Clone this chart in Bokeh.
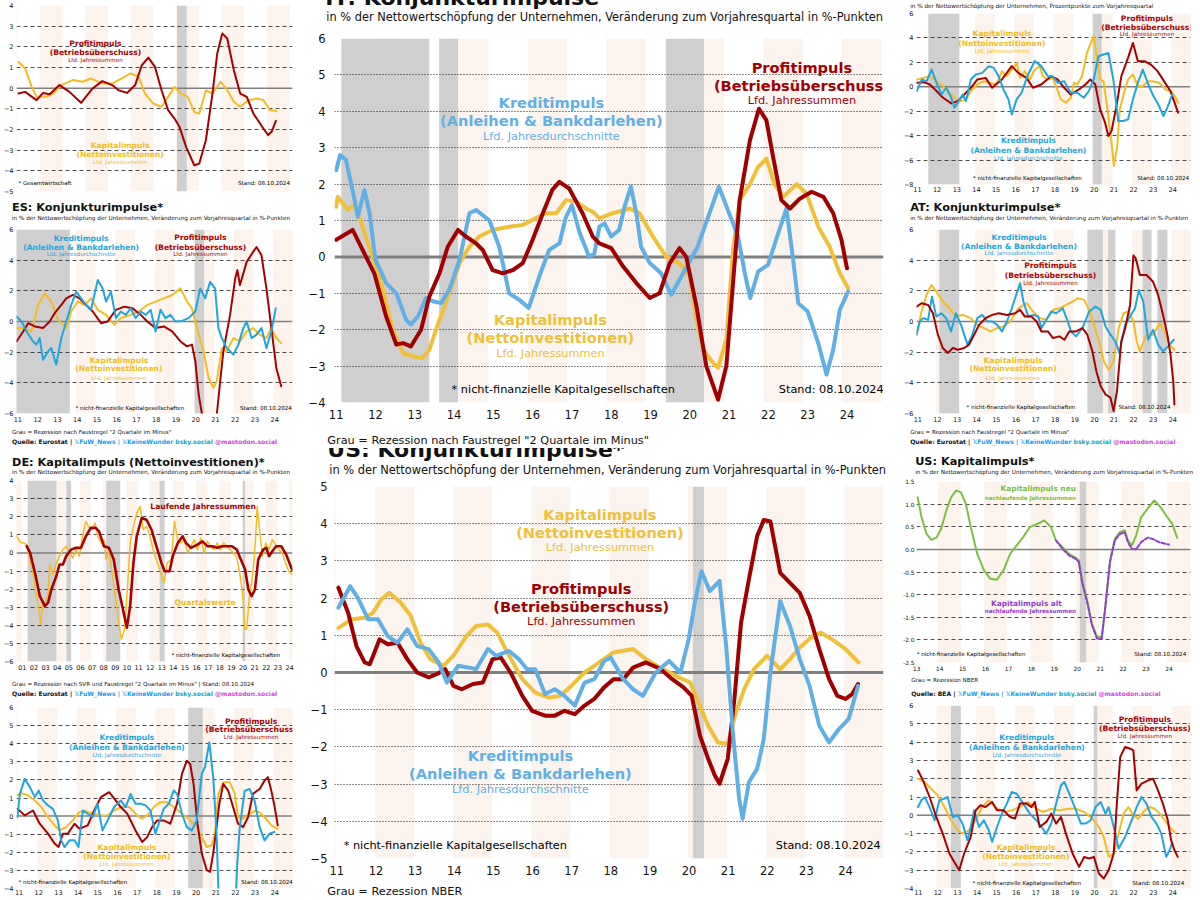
import html
from bokeh.plotting import figure
from bokeh.models import Range1d, FixedTicker, Label, Span, BoxAnnotation, NumeralTickFormatter, Div
from bokeh.layouts import row, column
from bokeh.embed import file_html
from bokeh.resources import INLINE

SX = 0.998
SY = 0.998
FONT = "DejaVu Sans"

RED = "#A80000"; YEL = "#F4BC22"; BLU = "#1FA5E0"
C_RED = "#A00000"; C_YEL = "#F0C03A"; C_BLU = "#62AFE6"
GRN = "#7BC043"; PUR = "#8E3FD0"
BEIGE = "#FCF3EC"; GRAY = "#CFCFCF"
TW_BLUE = "#1D9BF0"; BSKY = "#0FA3C8"; MASTO = "#D43FE0"

# ---------------- data ----------------
IT_KREDIT = [(2011.0,2.38),(2011.1,2.8),(2011.25,2.66),(2011.47,1.56),(2011.55,1.1),(2011.72,1.84),(2011.85,1.2),(2012.0,-0.08),(2012.27,-0.72),(2012.53,-1.0),(2012.78,-1.73),(2012.9,-1.86),(2013.08,-1.63),(2013.29,-1.13),(2013.46,-1.22),(2013.67,-1.27),(2013.88,-0.9),(2014.14,-0.08),(2014.39,1.2),(2014.56,1.29),(2014.9,1.0),(2015.15,0.28),(2015.4,-1.0),(2015.66,-1.18),(2015.9,-1.4),(2016.17,-0.54),(2016.42,0.19),(2016.68,0.37),(2016.85,1.1),(2017.0,1.42),(2017.2,0.65),(2017.44,0.0),(2017.57,0.1),(2017.7,0.83),(2017.83,0.92),(2018.0,0.56),(2018.2,0.74),(2018.34,1.38),(2018.5,1.93),(2018.64,1.2),(2018.76,0.28),(2018.98,-0.17),(2019.27,-0.45),(2019.53,-1.04),(2019.83,-0.45),(2020.2,0.28),(2020.5,1.2),(2020.74,1.93),(2021.0,1.2),(2021.23,0.56),(2021.4,-0.45),(2021.54,-1.13),(2021.74,-0.4),(2021.99,-0.22),(2022.25,0.65),(2022.46,1.33),(2022.63,-0.08),(2022.76,-1.27),(2023.0,-1.5),(2023.27,-2.37),(2023.48,-3.23),(2023.65,-2.55),(2023.82,-1.45),(2024.03,-0.95)]
IT_KAPITAL = [(2011.0,1.38),(2011.04,1.65),(2011.3,1.29),(2011.47,1.42),(2011.64,0.92),(2011.9,0.1),(2012.19,-0.9),(2012.44,-2.0),(2012.7,-2.64),(2012.95,-2.73),(2013.2,-2.78),(2013.37,-2.55),(2013.63,-1.73),(2013.88,-1.0),(2014.14,-0.17),(2014.39,0.28),(2014.64,0.56),(2014.98,0.74),(2015.4,0.83),(2015.75,0.88),(2016.08,1.06),(2016.34,1.2),(2016.6,1.2),(2016.85,1.56),(2017.1,1.52),(2017.36,1.33),(2017.53,1.24),(2017.7,1.06),(2018.04,1.2),(2018.47,1.33),(2018.72,1.2),(2019.06,0.56),(2019.4,0.0),(2019.74,-0.17),(2020.0,-0.54),(2020.17,-1.73),(2020.34,-2.55),(2020.59,-2.91),(2020.72,-3.05),(2020.93,-2.27),(2021.1,0.19),(2021.27,1.56),(2021.53,2.0),(2021.74,2.47),(2021.95,2.7),(2022.16,2.0),(2022.38,1.65),(2022.72,2.0),(2022.97,1.74),(2023.27,0.83),(2023.56,0.28),(2023.82,-0.45),(2024.03,-0.86)]
IT_PROFIT = [(2011.0,0.47),(2011.42,0.74),(2011.76,0.0),(2011.97,-0.45),(2012.27,-1.63),(2012.53,-2.41),(2012.7,-2.37),(2012.9,-2.46),(2013.16,-2.0),(2013.37,-1.09),(2013.63,-0.45),(2013.84,0.28),(2014.1,0.74),(2014.3,0.56),(2014.56,0.37),(2014.73,0.19),(2014.98,-0.36),(2015.24,-0.45),(2015.5,-0.36),(2015.75,-0.17),(2016.0,0.47),(2016.26,1.2),(2016.5,1.84),(2016.68,2.06),(2016.93,1.88),(2017.27,1.2),(2017.53,0.56),(2017.7,0.37),(2018.0,0.24),(2018.3,-0.26),(2018.64,-0.72),(2018.98,-1.13),(2019.23,-1.0),(2019.49,-0.17),(2019.74,0.24),(2019.91,0.0),(2020.17,-1.36),(2020.42,-3.0),(2020.72,-3.92),(2020.93,-3.0),(2021.1,-0.72),(2021.27,1.56),(2021.53,3.2),(2021.76,4.07),(2021.95,3.75),(2022.12,2.75),(2022.33,1.56),(2022.55,1.33),(2022.8,1.6),(2023.1,1.79),(2023.4,1.65),(2023.65,1.2),(2023.86,0.47),(2024.0,-0.31)]
IT_REZ = [(2011.13, 2013.37), (2013.62, 2014.1), (2019.39, 2020.36)]

US_KAPITAL = [(2011.04,1.2),(2011.38,1.43),(2011.71,1.47),(2011.92,1.6),(2012.13,1.96),(2012.34,2.14),(2012.63,1.88),(2012.89,1.52),(2013.14,0.8),(2013.39,0.36),(2013.72,0.18),(2013.98,0.45),(2014.31,0.98),(2014.56,1.25),(2014.86,1.29),(2015.1,1.07),(2015.4,0.45),(2015.74,-0.18),(2016.07,-0.54),(2016.41,-0.67),(2016.7,-0.63),(2016.99,-0.36),(2017.33,0.0),(2017.58,0.18),(2017.82,0.36),(2018.07,0.54),(2018.57,0.63),(2018.9,0.36),(2019.32,0.09),(2019.74,-0.13),(2020.03,-0.27),(2020.24,-0.8),(2020.49,-1.43),(2020.74,-1.88),(2020.99,-1.92),(2021.2,-1.07),(2021.41,-0.45),(2021.66,0.09),(2021.99,0.45),(2022.33,0.09),(2022.58,0.36),(2022.83,0.67),(2023.16,0.98),(2023.37,1.07),(2023.66,0.89),(2024.0,0.63),(2024.33,0.27)]
US_PROFIT = [(2011.04,2.28),(2011.29,1.6),(2011.5,0.71),(2011.71,0.27),(2011.84,0.22),(2011.96,0.54),(2012.09,0.89),(2012.3,0.76),(2012.55,0.8),(2012.8,0.36),(2013.05,0.0),(2013.35,-0.13),(2013.56,-0.04),(2013.77,0.09),(2013.98,-0.36),(2014.19,-0.45),(2014.48,-0.31),(2014.73,-0.27),(2014.98,0.36),(2015.19,0.4),(2015.44,0.0),(2015.74,-0.63),(2015.99,-1.03),(2016.32,-1.16),(2016.57,-1.16),(2016.82,-1.03),(2017.08,-1.12),(2017.33,-0.89),(2017.58,-0.71),(2017.83,-0.4),(2018.07,-0.18),(2018.32,-0.18),(2018.57,0.13),(2018.9,0.27),(2019.28,0.09),(2019.57,-0.18),(2019.86,-0.4),(2020.07,-0.63),(2020.28,-1.7),(2020.49,-2.32),(2020.66,-2.77),(2020.78,-2.99),(2020.99,-2.32),(2021.16,-0.71),(2021.33,1.34),(2021.53,2.5),(2021.74,3.66),(2021.91,4.1),(2022.08,4.06),(2022.33,2.68),(2022.58,2.41),(2022.83,2.14),(2023.08,1.52),(2023.33,0.63),(2023.58,-0.18),(2023.79,-0.63),(2024.0,-0.71),(2024.17,-0.58),(2024.32,-0.31)]
US_KREDIT = [(2011.04,1.74),(2011.34,2.32),(2011.54,2.0),(2011.8,1.43),(2012.05,1.43),(2012.3,0.98),(2012.55,0.8),(2012.8,1.16),(2013.05,0.71),(2013.35,0.63),(2013.6,0.27),(2013.81,-0.27),(2014.1,0.18),(2014.39,0.13),(2014.56,0.09),(2014.86,0.63),(2015.07,0.45),(2015.4,0.58),(2015.65,0.36),(2015.86,0.09),(2016.07,0.09),(2016.32,-0.58),(2016.57,-0.45),(2016.82,-0.63),(2017.08,-0.89),(2017.33,-0.27),(2017.58,-0.18),(2017.83,0.31),(2018.0,0.4),(2018.32,-0.18),(2018.57,-0.45),(2018.82,-0.63),(2019.15,0.0),(2019.49,0.31),(2019.78,0.0),(2019.99,0.89),(2020.16,1.96),(2020.32,2.72),(2020.53,2.19),(2020.78,2.46),(2020.95,0.71),(2021.12,-1.61),(2021.28,-3.39),(2021.37,-3.93),(2021.53,-2.95),(2021.74,-2.59),(2021.91,-1.79),(2022.08,0.0),(2022.33,1.92),(2022.58,1.25),(2022.83,0.36),(2023.08,-0.36),(2023.33,-1.43),(2023.58,-1.88),(2023.83,-1.52),(2024.08,-1.25),(2024.32,-0.36)]
US_REZ = [(2020.1, 2020.38)]

L1_PROFIT = [(2013.0,-0.26),(2013.29,-0.18),(2013.79,-0.58),(2014.08,-0.23),(2014.37,-0.29),(2014.8,0.15),(2015.24,-0.18),(2015.75,-0.71),(2016.25,-0.02),(2016.68,0.34),(2017.12,0.15),(2017.4,-0.1),(2017.77,-0.23),(2018.13,0.15),(2018.42,1.11),(2018.71,1.48),(2019.0,1.03),(2019.29,-0.1),(2019.58,-1.06),(2019.86,-1.47),(2020.08,-1.87),(2020.37,-2.84),(2020.73,-3.73),(2020.95,-3.65),(2021.24,-2.52),(2021.53,-0.26),(2021.74,1.68),(2021.96,2.65),(2022.18,2.4),(2022.47,0.87),(2022.75,-0.26),(2023.04,-0.42),(2023.33,-1.23),(2023.77,-1.95),(2023.98,-2.27),(2024.13,-2.11),(2024.32,-1.58)]
L1_KAPITAL = [(2013.0,1.27),(2013.29,0.95),(2013.58,0.06),(2013.79,-0.42),(2014.23,-0.42),(2014.52,-0.26),(2014.88,0.15),(2015.38,0.39),(2015.82,0.31),(2016.18,0.47),(2016.68,0.23),(2017.12,0.23),(2017.55,0.47),(2017.91,0.71),(2018.27,0.58),(2018.56,-0.26),(2018.92,-0.74),(2019.29,-0.9),(2019.58,-0.42),(2019.86,0.06),(2020.15,-0.26),(2020.44,-0.42),(2020.73,-1.15),(2020.95,-1.23),(2021.24,-0.1),(2021.53,-0.26),(2021.89,0.31),(2022.18,-0.1),(2022.47,-0.66),(2022.75,-0.9),(2023.12,-0.58),(2023.48,-0.5),(2023.77,-0.58),(2024.05,-1.06),(2024.34,-1.11)]
L1_REZ = [(2019.97, 2020.4)]

ES_KREDIT = [(2010.93,0.32),(2011.19,0.0),(2011.44,-0.65),(2011.77,-1.3),(2011.94,-1.51),(2012.1,-1.08),(2012.27,-2.49),(2012.53,-1.95),(2012.69,-1.73),(2012.94,-2.81),(2013.2,-1.08),(2013.45,0.0),(2013.7,1.08),(2013.95,1.95),(2014.2,1.51),(2014.45,1.08),(2014.7,0.76),(2014.87,1.73),(2015.04,2.7),(2015.29,2.16),(2015.46,1.3),(2015.71,1.95),(2015.96,0.22),(2016.21,0.65),(2016.46,0.43),(2016.71,0.86),(2016.96,0.22),(2017.22,0.65),(2017.47,0.43),(2017.72,0.76),(2017.97,-0.65),(2018.22,0.76),(2018.47,0.22),(2018.72,0.43),(2018.97,0.0),(2019.31,0.04),(2019.64,0.22),(2019.98,0.65),(2020.23,2.16),(2020.48,1.51),(2020.73,2.59),(2020.98,2.16),(2021.15,-0.43),(2021.32,-1.08),(2021.57,-1.73),(2021.91,-2.16),(2022.16,-1.51),(2022.41,-0.43),(2022.58,0.0),(2022.83,-1.08),(2023.08,-0.86),(2023.33,-0.43),(2023.58,-1.73),(2023.83,-0.65),(2024.05,0.86)]
ES_KAPITAL = [(2010.93,-0.43),(2011.27,-0.43),(2011.69,-0.65),(2012.02,1.08),(2012.36,1.84),(2012.69,1.3),(2013.03,0.11),(2013.45,-0.43),(2013.7,0.65),(2014.03,1.3),(2014.37,1.08),(2014.7,1.51),(2015.04,0.76),(2015.46,0.43),(2015.88,-0.22),(2016.21,0.22),(2016.71,0.43),(2017.13,0.65),(2017.55,1.08),(2017.97,1.3),(2018.39,1.51),(2018.81,1.73),(2019.23,2.16),(2019.56,1.3),(2019.81,0.86),(2020.06,-0.43),(2020.4,-1.95),(2020.65,-3.68),(2020.9,-4.32),(2021.07,-3.89),(2021.32,-1.73),(2021.57,-1.95),(2021.91,-1.08),(2022.24,-1.3),(2022.58,-0.65),(2022.91,-0.43),(2023.25,-0.86),(2023.58,-1.08),(2023.83,-0.43),(2024.08,-1.08),(2024.33,-1.41)]
ES_PROFIT = [(2010.93,-1.3),(2011.27,-0.65),(2011.52,-0.11),(2011.86,-0.32),(2012.27,-0.43),(2012.61,0.0),(2012.86,0.54),(2013.2,1.08),(2013.45,1.51),(2013.78,1.73),(2014.12,1.51),(2014.45,1.08),(2014.79,0.65),(2015.21,-0.11),(2015.54,0.0),(2015.96,0.76),(2016.38,0.97),(2016.8,0.86),(2017.22,0.43),(2017.55,0.0),(2017.97,-0.43),(2018.39,-0.32),(2018.81,-0.65),(2019.23,-1.3),(2019.56,-1.62),(2019.81,-1.51),(2019.98,-2.59),(2020.15,-4.76),(2020.32,-6.05),(2020.6,-9.0),(2020.9,-9.0),(2021.07,-6.05),(2021.24,-3.89),(2021.4,-1.95),(2021.74,0.43),(2022.0,2.81),(2022.11,3.35),(2022.24,2.38),(2022.58,3.89),(2022.91,4.54),(2023.08,4.86),(2023.33,4.32),(2023.58,2.16),(2023.83,-0.43),(2024.08,-3.03),(2024.33,-4.22)]
ES_REZ = [(2010.9, 2013.63), (2019.95, 2020.43)]

AT_KREDIT = [(2010.93,-0.86),(2011.1,0.0),(2011.27,0.22),(2011.52,0.11),(2011.72,1.62),(2011.94,0.32),(2012.19,0.54),(2012.44,0.22),(2012.69,-0.65),(2012.94,0.54),(2013.2,-0.22),(2013.53,-1.51),(2013.78,-0.86),(2014.03,0.22),(2014.28,0.43),(2014.54,0.0),(2014.79,0.0),(2015.04,-0.22),(2015.29,-0.65),(2015.54,0.0),(2015.79,0.86),(2016.01,1.73),(2016.21,2.49),(2016.38,1.3),(2016.63,0.32),(2016.88,0.43),(2017.13,0.32),(2017.3,-0.43),(2017.55,0.11),(2017.8,0.65),(2018.05,0.54),(2018.39,0.86),(2018.64,0.0),(2018.81,-0.65),(2019.06,-0.97),(2019.39,-0.43),(2019.73,0.65),(2020.06,0.97),(2020.32,0.76),(2020.57,-0.32),(2020.82,-0.86),(2021.07,-1.3),(2021.27,-2.05),(2021.57,-0.22),(2021.82,0.32),(2022.07,0.86),(2022.27,2.05),(2022.49,1.3),(2022.74,-1.19),(2022.99,-0.54),(2023.25,-1.51),(2023.5,-1.95),(2023.75,-1.62),(2024.05,-1.19)]
AT_PROFIT = [(2010.93,0.97),(2011.19,1.19),(2011.52,1.08),(2011.77,0.54),(2012.02,-0.86),(2012.27,-1.73),(2012.53,-2.05),(2012.78,-1.73),(2013.03,-1.84),(2013.36,-1.73),(2013.61,-1.51),(2013.87,-0.86),(2014.12,-0.22),(2014.45,0.22),(2014.79,0.43),(2015.12,0.54),(2015.54,0.43),(2015.96,0.54),(2016.21,0.76),(2016.46,0.32),(2016.8,0.32),(2017.05,0.0),(2017.3,-0.65),(2017.63,-0.65),(2017.89,-1.08),(2018.22,-0.97),(2018.47,-1.19),(2018.72,-0.65),(2019.06,-0.65),(2019.39,-0.43),(2019.64,-0.86),(2019.9,-1.95),(2020.1,-3.24),(2020.32,-4.22),(2020.57,-4.76),(2020.82,-4.97),(2020.98,-5.84),(2021.15,-4.54),(2021.37,-1.3),(2021.57,-0.43),(2021.82,1.08),(2021.99,4.32),(2022.11,4.11),(2022.32,3.03),(2022.66,3.03),(2022.99,2.59),(2023.25,1.73),(2023.5,0.43),(2023.72,-0.86),(2023.88,-2.16),(2024.02,-3.89),(2024.08,-5.41)]
AT_KAPITAL = [(2010.93,-0.86),(2011.19,0.65),(2011.44,1.73),(2011.69,2.38),(2011.94,1.95),(2012.27,1.3),(2012.61,0.86),(2012.94,0.32),(2013.28,0.43),(2013.7,0.22),(2014.03,-0.22),(2014.37,-0.43),(2014.7,-0.65),(2015.04,-0.43),(2015.37,-0.32),(2015.71,0.0),(2016.13,0.86),(2016.55,1.19),(2016.88,0.65),(2017.22,0.22),(2017.55,0.11),(2017.89,0.76),(2018.22,0.86),(2018.56,1.08),(2018.89,1.3),(2019.14,1.51),(2019.48,1.41),(2019.73,0.76),(2019.98,-0.22),(2020.23,-1.3),(2020.48,-2.59),(2020.73,-3.14),(2020.98,-2.59),(2021.24,-0.43),(2021.49,0.54),(2021.74,0.65),(2021.99,0.0),(2022.16,-1.3),(2022.32,-1.95),(2022.66,-0.86),(2022.99,-0.86),(2023.33,-0.11),(2023.58,-0.65),(2023.83,-1.51),(2024.08,-1.84)]
AT_REZ = [(2012.1, 2013.11), (2019.64, 2020.43), (2020.7, 2021.07), (2022.46, 2022.91), (2023.21, 2023.72)]

DE_QUARTAL = [(2000.48,0.95),(2000.82,0.59),(2001.1,0.55),(2001.38,0.46),(2001.67,-0.37),(2001.95,-1.28),(2002.23,-2.39),(2002.46,-3.3),(2002.57,-3.94),(2002.74,-2.94),(2002.94,-2.75),(2003.22,-2.39),(2003.36,-0.64),(2003.64,-1.19),(2003.93,-0.55),(2004.2,-0.18),(2004.49,0.18),(2004.77,0.37),(2005.06,0.0),(2005.34,-0.28),(2005.62,0.18),(2005.9,-0.18),(2006.19,0.92),(2006.47,1.74),(2006.69,1.47),(2006.98,1.28),(2007.26,1.65),(2007.54,0.83),(2007.82,0.55),(2008.02,0.73),(2008.22,-0.37),(2008.45,0.18),(2008.73,-1.1),(2009.01,-2.39),(2009.29,-3.85),(2009.52,-4.77),(2009.8,-4.22),(2010.08,-1.65),(2010.28,0.55),(2010.56,1.47),(2010.85,2.2),(2011.13,2.57),(2011.41,1.28),(2011.69,1.47),(2011.98,0.92),(2012.26,0.18),(2012.54,-0.37),(2012.91,-1.1),(2013.19,-1.65),(2013.47,-0.55),(2013.81,-0.37),(2014.1,1.74),(2014.38,0.64),(2014.66,0.55),(2014.94,0.73),(2015.23,0.0),(2015.51,0.37),(2015.79,0.73),(2016.07,0.18),(2016.36,0.83),(2016.64,0.0),(2016.92,0.64),(2017.2,0.37),(2017.49,0.18),(2017.77,0.55),(2018.05,0.18),(2018.33,0.55),(2018.62,0.37),(2018.9,0.18),(2019.18,0.0),(2019.46,-0.28),(2019.75,-1.28),(2019.97,-2.39),(2020.17,-4.22),(2020.31,-4.22),(2020.54,-2.39),(2020.73,-1.65),(2020.93,-0.55),(2021.1,1.1),(2021.21,2.57),(2021.38,1.47),(2021.67,-0.18),(2021.95,0.55),(2022.23,0.18),(2022.51,0.73),(2022.8,0.46),(2023.08,0.18),(2023.36,0.0),(2023.64,-0.55),(2023.93,-1.01),(2024.21,-1.19)]
DE_JAHR = [(2001.38,0.37),(2001.67,0.0),(2002.09,-1.1),(2002.51,-2.39),(2002.94,-2.94),(2003.22,-2.75),(2003.5,-2.02),(2003.93,-1.28),(2004.2,-0.64),(2004.49,-0.64),(2004.77,-0.18),(2005.2,0.18),(2005.62,0.28),(2006.05,0.28),(2006.47,0.92),(2006.89,1.38),(2007.32,1.38),(2007.6,1.19),(2008.02,0.37),(2008.45,0.28),(2008.87,-0.37),(2009.29,-2.02),(2009.72,-3.3),(2010.0,-4.13),(2010.28,-2.94),(2010.56,-0.55),(2010.85,0.92),(2011.27,1.93),(2011.69,1.83),(2012.12,1.28),(2012.54,0.37),(2012.97,-0.55),(2013.25,-1.01),(2013.67,-1.01),(2013.95,-0.18),(2014.38,0.55),(2014.8,0.92),(2015.08,0.55),(2015.51,0.28),(2016.07,0.46),(2016.5,0.64),(2016.92,0.37),(2017.34,0.37),(2017.77,0.28),(2018.19,0.37),(2018.62,0.37),(2019.04,0.37),(2019.46,0.18),(2019.75,-0.28),(2020.17,-0.92),(2020.45,-2.02),(2020.73,-2.39),(2021.02,-2.02),(2021.3,-0.37),(2021.72,0.18),(2022.0,0.28),(2022.23,-0.18),(2022.51,0.09),(2022.85,0.37),(2023.28,0.37),(2023.7,-0.09),(2024.21,-0.92)]
DE_REZ = [(2001.46, 2003.94), (2004.8, 2005.2), (2008.22, 2009.43), (2012.82, 2013.25), (2019.97, 2020.17)]

L4_KREDIT = [(2010.92,-0.06),(2011.04,1.23),(2011.29,2.06),(2011.55,1.6),(2011.8,1.05),(2012.0,1.41),(2012.22,0.86),(2012.47,0.59),(2012.72,0.4),(2012.97,-0.24),(2013.14,-1.34),(2013.31,-1.71),(2013.56,-1.34),(2013.82,-1.34),(2014.02,-1.71),(2014.24,0.31),(2014.49,0.13),(2014.74,-0.06),(2014.99,0.68),(2015.24,-0.79),(2015.5,-0.24),(2015.83,0.5),(2016.17,0.86),(2016.42,0.5),(2016.67,1.23),(2016.92,0.68),(2017.18,0.68),(2017.43,0.59),(2017.68,0.31),(2017.93,-0.97),(2018.1,-0.42),(2018.35,0.4),(2018.61,0.68),(2018.86,1.41),(2019.03,1.23),(2019.28,0.13),(2019.53,-0.61),(2019.78,-0.79),(2020.03,-0.24),(2020.29,2.33),(2020.45,2.7),(2020.67,4.07),(2020.87,2.15),(2021.04,-0.97),(2021.13,-3.91),(2021.21,-6.1),(2021.6,-8.0),(2021.97,-6.1),(2022.08,-2.81),(2022.22,-0.61),(2022.47,1.41),(2022.72,1.5),(2022.97,0.86),(2023.23,-0.61),(2023.48,-1.34),(2023.73,-0.97),(2023.98,-0.88)]
L4_PROFIT = [(2010.92,0.4),(2011.29,0.04),(2011.71,0.31),(2012.05,-0.42),(2012.47,-0.97),(2012.81,-1.52),(2013.01,-1.71),(2013.23,-0.97),(2013.48,-0.97),(2013.82,-0.42),(2014.07,-0.7),(2014.49,-0.51),(2014.82,0.31),(2015.16,1.05),(2015.58,1.32),(2015.92,0.86),(2016.17,0.5),(2016.5,0.13),(2016.92,-0.79),(2017.26,-1.43),(2017.51,-1.16),(2017.76,-0.61),(2018.02,-0.24),(2018.35,-0.24),(2018.69,-0.42),(2019.03,0.68),(2019.28,2.33),(2019.53,3.06),(2019.7,2.88),(2019.87,1.78),(2020.07,-0.42),(2020.29,-2.07),(2020.54,-2.99),(2020.71,-3.08),(2020.87,-2.07),(2021.04,-0.61),(2021.18,0.68),(2021.38,1.78),(2021.63,1.41),(2021.88,0.5),(2022.13,-0.42),(2022.39,-0.61),(2022.64,-0.06),(2022.89,1.23),(2023.23,1.5),(2023.48,1.96),(2023.65,2.15),(2023.82,1.41),(2023.98,0.59),(2024.15,-0.51)]
L4_KAPITAL = [(2010.92,1.14),(2011.13,1.27),(2011.46,1.14),(2011.8,0.86),(2012.13,0.5),(2012.47,-0.06),(2012.81,-0.51),(2013.06,-0.79),(2013.39,-0.61),(2013.73,-0.24),(2014.07,0.22),(2014.32,0.31),(2014.74,0.13),(2015.16,0.04),(2015.5,0.04),(2015.83,0.31),(2016.17,0.5),(2016.59,0.5),(2017.01,0.04),(2017.26,-0.15),(2017.6,0.13),(2017.85,0.5),(2018.18,0.77),(2018.52,0.77),(2018.86,0.5),(2019.28,0.13),(2019.7,-0.24),(2020.03,-0.61),(2020.29,-1.16),(2020.54,-1.71),(2020.79,-1.61),(2020.96,-0.97),(2021.13,1.23),(2021.38,1.87),(2021.71,1.87),(2021.97,1.23),(2022.13,-0.06),(2022.39,-0.15),(2022.72,0.13),(2023.06,0.31),(2023.31,0.13),(2023.56,-0.15),(2023.82,-0.51),(2024.15,-0.7)]
L4_REZ = [(2019.6, 2020.34)]

R1_KAPITAL = [(2010.97,0.6),(2011.3,0.73),(2011.63,0.87),(2011.97,0.46),(2012.3,0.05),(2012.63,-0.49),(2012.97,-1.03),(2013.22,-1.17),(2013.47,-1.03),(2013.72,-0.35),(2014.05,0.19),(2014.38,0.46),(2014.67,0.33),(2014.97,0.19),(2015.13,0.6),(2015.3,1.28),(2015.55,0.87),(2015.8,1.41),(2016.05,1.96),(2016.22,0.73),(2016.47,1.28),(2016.72,0.6),(2016.97,1.41),(2017.22,1.69),(2017.38,0.87),(2017.63,0.6),(2017.88,0.73),(2018.05,0.05),(2018.3,-1.03),(2018.55,-1.31),(2018.8,-0.9),(2018.97,0.33),(2019.13,0.19),(2019.38,0.87),(2019.63,2.78),(2019.83,3.59),(2019.97,4.14),(2020.13,2.5),(2020.3,0.6),(2020.47,0.46),(2020.63,-1.31),(2020.88,-4.57),(2021.0,-6.48),(2021.17,-4.84),(2021.3,-1.85),(2021.47,-0.76),(2021.72,0.6),(2021.97,1.01),(2022.22,0.05),(2022.47,0.05),(2022.72,0.46),(2022.97,0.46),(2023.3,0.33),(2023.63,-0.22),(2023.88,-0.35),(2024.1,-0.76),(2024.27,-1.31)]
R1_PROFIT = [(2010.97,0.33),(2011.3,0.38),(2011.63,0.19),(2011.97,-0.35),(2012.3,-0.9),(2012.72,-1.36),(2013.05,-1.17),(2013.38,-0.63),(2013.72,-0.08),(2014.05,0.6),(2014.47,0.73),(2014.8,-0.08),(2015.3,0.6),(2015.8,1.69),(2016.13,1.14),(2016.55,0.73),(2016.88,-0.08),(2017.3,0.19),(2017.8,0.87),(2018.13,0.6),(2018.47,-0.08),(2018.8,-0.63),(2019.22,-0.22),(2019.55,0.19),(2019.8,0.6),(2020.05,0.19),(2020.3,-1.85),(2020.55,-2.94),(2020.72,-4.03),(2020.88,-3.62),(2021.13,-1.58),(2021.38,0.87),(2021.72,2.37),(2021.97,3.59),(2022.22,2.1),(2022.55,2.1),(2022.88,1.82),(2023.22,1.28),(2023.55,0.46),(2023.88,-0.35),(2024.27,-2.12)]
R1_KREDIT = [(2010.97,-0.35),(2011.22,0.6),(2011.47,0.46),(2011.72,1.41),(2011.97,0.33),(2012.22,-0.63),(2012.47,-0.08),(2012.72,-0.9),(2012.88,-1.71),(2013.05,-1.31),(2013.3,-0.63),(2013.47,-1.17),(2013.72,0.6),(2013.97,1.01),(2014.3,1.14),(2014.63,1.69),(2014.88,1.55),(2015.13,0.87),(2015.38,-0.22),(2015.63,-1.03),(2015.8,-2.26),(2016.05,-1.03),(2016.3,-0.49),(2016.63,1.01),(2016.97,2.1),(2017.3,1.69),(2017.63,0.87),(2017.88,0.87),(2018.13,0.33),(2018.47,0.46),(2018.8,-0.49),(2019.13,-0.49),(2019.47,-0.9),(2019.72,-0.35),(2019.97,0.6),(2020.22,2.5),(2020.47,2.64),(2020.72,2.78),(2020.97,0.6),(2021.22,-2.8),(2021.47,-2.8),(2021.72,-2.67),(2021.97,-1.03),(2022.22,0.33),(2022.47,1.41),(2022.72,0.33),(2022.97,-0.63),(2023.3,-1.58),(2023.52,-2.39),(2023.72,-1.71),(2023.97,-0.63)]
R1_REZ = [(2011.55, 2013.13), (2019.92, 2020.38)]

US_KAP_NEU = [(2013.04,1.15),(2013.21,0.71),(2013.43,0.34),(2013.64,0.21),(2013.86,0.26),(2014.07,0.46),(2014.29,0.86),(2014.5,1.15),(2014.71,1.3),(2014.93,1.26),(2015.14,1.01),(2015.36,0.49),(2015.64,-0.1),(2015.93,-0.46),(2016.21,-0.65),(2016.5,-0.67),(2016.79,-0.46),(2017.07,-0.1),(2017.36,0.09),(2017.64,0.27),(2017.93,0.49),(2018.21,0.55),(2018.57,0.64),(2018.86,0.49),(2019.07,0.2),(2019.36,0.05),(2019.64,-0.1),(2019.93,-0.18),(2020.07,-0.24),(2020.21,-0.68),(2020.43,-1.12),(2020.64,-1.64),(2020.86,-1.93),(2021.07,-1.93),(2021.21,-1.34),(2021.43,-0.24),(2021.64,0.23),(2021.86,0.38),(2022.07,0.42),(2022.21,0.2),(2022.39,0.09),(2022.57,0.31),(2022.79,0.71),(2023.07,0.9),(2023.36,1.08),(2023.64,0.93),(2023.93,0.71),(2024.14,0.57),(2024.36,0.26)]
US_KAP_ALT = [(2019.07,0.2),(2019.36,0.01),(2019.64,-0.13),(2019.93,-0.21),(2020.07,-0.28),(2020.21,-0.72),(2020.43,-1.16),(2020.64,-1.67),(2020.86,-1.97),(2021.07,-1.97),(2021.21,-1.34),(2021.43,-0.28),(2021.64,0.2),(2021.86,0.34),(2022.07,0.38),(2022.21,0.16),(2022.39,0.01),(2022.57,0.0),(2022.79,0.16),(2023.07,0.26),(2023.29,0.23),(2023.57,0.16),(2023.86,0.12),(2024.0,0.11)]
R3_REZ = [(2020.11, 2020.39)]

R4_PROFIT = [(2010.99,2.45),(2011.24,1.91),(2011.58,1.0),(2011.92,-0.09),(2012.25,-1.0),(2012.59,-2.09),(2012.84,-2.55),(2013.09,-3.0),(2013.34,-2.09),(2013.68,-1.18),(2013.93,0.27),(2014.18,0.55),(2014.43,0.45),(2014.77,0.73),(2015.02,0.27),(2015.36,0.27),(2015.69,-0.09),(2015.94,-0.18),(2016.19,0.64),(2016.53,0.64),(2016.78,0.45),(2016.95,0.73),(2017.2,-0.64),(2017.54,-0.36),(2017.79,0.09),(2018.04,-0.45),(2018.29,-0.09),(2018.54,-1.0),(2018.88,-2.09),(2019.21,-2.82),(2019.47,-2.27),(2019.72,-2.36),(2019.97,-2.27),(2020.22,-3.18),(2020.47,-3.45),(2020.72,-3.0),(2020.98,-2.09),(2021.14,0.64),(2021.31,3.18),(2021.56,3.73),(2021.82,3.64),(2021.98,3.55),(2022.15,1.36),(2022.4,1.73),(2022.74,1.91),(2022.99,2.0),(2023.24,1.36),(2023.49,0.64),(2023.74,-0.27),(2023.91,-1.36),(2024.08,-1.91),(2024.25,-2.27)]
R4_KREDIT = [(2010.99,0.45),(2011.16,0.82),(2011.33,1.0),(2011.58,0.45),(2011.83,-0.27),(2012.08,0.82),(2012.34,0.91),(2012.5,1.0),(2012.76,-0.09),(2013.01,0.0),(2013.26,-0.45),(2013.51,-1.36),(2013.68,-0.64),(2013.85,0.27),(2014.1,-0.64),(2014.35,-0.27),(2014.6,-0.82),(2014.77,-1.45),(2015.02,-0.64),(2015.27,0.09),(2015.52,0.64),(2015.77,1.27),(2016.03,1.18),(2016.36,0.64),(2016.7,0.09),(2017.03,-0.27),(2017.29,-0.64),(2017.54,-1.0),(2017.79,-0.45),(2018.04,0.64),(2018.29,1.64),(2018.46,1.82),(2018.71,1.18),(2019.05,0.27),(2019.3,-0.45),(2019.55,-0.45),(2019.8,-0.27),(2020.05,0.45),(2020.31,0.73),(2020.56,0.09),(2020.72,0.45),(2020.98,-0.64),(2021.23,-1.82),(2021.56,-1.18),(2021.9,-0.27),(2022.15,0.45),(2022.4,1.0),(2022.65,0.64),(2022.91,-0.09),(2023.16,-0.45),(2023.41,-1.0),(2023.66,-2.27),(2023.83,-1.91),(2023.95,-1.55)]
R4_KAPITAL = [(2010.99,2.0),(2011.33,1.82),(2011.66,1.45),(2012.0,1.09),(2012.34,0.45),(2012.67,-0.27),(2013.01,-0.82),(2013.26,-1.0),(2013.59,-0.82),(2013.93,-0.27),(2014.27,0.45),(2014.6,0.82),(2014.94,0.45),(2015.36,0.18),(2015.78,0.27),(2016.19,0.45),(2016.61,0.73),(2017.03,0.36),(2017.37,0.18),(2017.79,0.36),(2018.21,0.27),(2018.63,0.36),(2019.05,0.36),(2019.47,0.18),(2019.89,-0.18),(2020.22,-0.64),(2020.47,-1.18),(2020.72,-2.27),(2020.98,-2.09),(2021.23,-1.0),(2021.48,0.09),(2021.73,0.45),(2021.98,0.0),(2022.23,-0.18),(2022.57,0.27),(2022.82,0.45),(2023.07,0.36),(2023.33,0.09),(2023.58,-0.27),(2023.83,-0.64),(2024.08,-0.91)]
R4_REZ = [(2012.67, 2013.17), (2019.97, 2020.14)]

YEARS_11 = list(range(2011, 2025))
YEARS_DE = list(range(2001, 2025))
YEARS_US = list(range(2013, 2025))
EVEN_YEARS = list(range(2000, 2026, 2))

PROFIT_T = ("Profitimpuls", "(Betriebsüberschuss)", "Lfd. Jahressummen")
KREDIT_T = ("Kreditimpuls", "(Anleihen & Bankdarlehen)", "Lfd. Jahresdurchschnitte")
KAPITAL_T = ("Kapitalimpuls", "(Nettoinvestitionen)", "Lfd. Jahressummen")
SUB = "in % der Nettowertschöpfung der Unternehmen, Veränderung zum Vorjahresquartal in %-Punkten"
NOTE = "* nicht-finanzielle Kapitalgesellschaften"
STAND = "Stand: 08.10.2024"
GRAU_F = 'Grau = Rezession nach Faustregel "2 Quartale im Minus"'


# ---------------- helpers ----------------
def LX(v):
    return round(v * SX)


def TY(v):
    return round(v * SY)


class Panel:
    def __init__(self, canvas, frame, xr, yr):
        cl, ct, cr, cb = canvas
        fl, ft, fr, fb = frame
        self.cl, self.ct = LX(cl), TY(ct)
        self.w = LX(cr) - LX(cl)
        self.h = TY(cb) - TY(ct)
        self.bl = LX(fl) - LX(cl)
        self.br = LX(cr) - LX(fr)
        self.bt = TY(ft) - TY(ct)
        self.bb = TY(cb) - TY(fb)
        self.fw = self.w - self.bl - self.br
        self.fh = self.h - self.bt - self.bb
        self.xr, self.yr = xr, yr

    def data(self, X, Y):
        cx = X * SX - self.cl
        cy = Y * SY - self.ct
        x = self.xr[0] + (cx - self.bl) / self.fw * (self.xr[1] - self.xr[0])
        y = self.yr[1] - (cy - self.bt) / self.fh * (self.yr[1] - self.yr[0])
        return x, y


def build(P, yticks, xticks, tick_fs="6.5px", ystand=3, xstand=3, show_x=True, center=False, yfmt=None):
    p = figure(width=P.w, height=P.h, x_range=Range1d(*P.xr), y_range=Range1d(*P.yr),
               output_backend="svg", toolbar_location=None,
               x_axis_location="below" if show_x else None,
               min_border_left=P.bl, min_border_right=P.br,
               min_border_top=P.bt, min_border_bottom=P.bb)
    p.outline_line_color = None
    p.background_fill_color = "white"
    p.border_fill_color = "white"
    for g in p.xgrid:
        g.visible = False
    for g in p.ygrid:
        g.ticker = FixedTicker(ticks=[t for t in yticks if t != 0])
        if center:
            g.grid_line_color = "#1A1A1A"; g.grid_line_dash = "1 2"; g.grid_line_width = 1.1
        else:
            g.grid_line_color = "#222222"; g.grid_line_dash = "4 3"; g.grid_line_width = 0.8
    p.yaxis.ticker = FixedTicker(ticks=yticks)
    if yfmt:
        p.yaxis.formatter = NumeralTickFormatter(format=yfmt)
    p.yaxis.major_label_standoff = ystand
    if show_x:
        p.xaxis.ticker = FixedTicker(ticks=xticks)
        p.xaxis.major_label_overrides = {t: f"{t % 100:02d}" for t in xticks}
        p.xaxis.major_label_standoff = xstand
    for ax in p.axis:
        ax.axis_line_color = None
        ax.major_tick_line_color = None
        ax.minor_tick_line_color = None
        ax.major_tick_out = 0
        ax.major_tick_in = 0
        ax.major_label_text_font = FONT
        ax.major_label_text_font_size = tick_fs
        ax.major_label_text_color = "#111111"
    P.fig = p
    return p


def bands(P, rez, off, beige=BEIGE, gray=GRAY):
    for y in EVEN_YEARS:
        if y + off + 1 > P.xr[0] and y + off < P.xr[1]:
            P.fig.add_layout(BoxAnnotation(left=y + off, right=y + off + 1, fill_color=beige,
                                           fill_alpha=1, line_color=None, level="image"))
    for a, b in rez:
        P.fig.add_layout(BoxAnnotation(left=a, right=b, fill_color=gray, fill_alpha=1,
                                       line_color=None, level="image"))


def zero(P, w):
    P.fig.add_layout(Span(location=0, dimension="width", line_color="#7F7F7F",
                          line_width=w, level="underlay"))


def series(P, pts, color, width, dash="solid"):
    xs = [a for a, b in pts]
    ys = [b for a, b in pts]
    P.fig.line(xs, ys, line_color=color, line_width=width, line_join="round",
               line_cap="round", line_dash=dash)


def txt(P, X, Y, s, size, color="black", bold=False, align="center", base="middle"):
    x, y = P.data(X, Y)
    P.fig.add_layout(Label(x=x, y=y, text=s, text_font=FONT, text_font_size=size,
                           text_color=color, text_font_style="bold" if bold else "normal",
                           text_align=align, text_baseline=base))


def trio(P, X, Ys, lines, color, s1="7.6px", s3="5.7px"):
    txt(P, X, Ys[0], lines[0], s1, color, True)
    txt(P, X, Ys[1], lines[1], s1, color, True)
    txt(P, X, Ys[2], lines[2], s3, color)


def T(X, Y, s, size, color="#111111", bold=False, align="left", base="middle", raw=None):
    return dict(X=X, Y=Y, s=s, size=size, color=color, bold=bold, align=align, base=base, raw=raw)


def quelle(X0, Y, src, size=6.1):
    e = html.escape
    raw = (f'{e(src)} <span style="color:{TW_BLUE}">{e("𝕏FuW_News | 𝕏KeineWunder")}</span> '
           f'<span style="color:{BSKY}">bsky.social</span> '
           f'<span style="color:{MASTO}">@mastodon.social</span>')
    return T(X0, Y, src, size, "#111111", True, raw=raw)


def textdiv(box, items):
    l, t, r, b = box
    w = LX(r) - LX(l)
    h = TY(b) - TY(t)
    spans = []
    for it in items:
        x = it["X"] * SX - LX(l)
        y = it["Y"] * SY - TY(t)
        fs = it["size"]
        tx = {"left": "0%", "center": "-50%", "right": "-100%"}[it["align"]]
        if it["base"] == "alphabetic":
            top = y - 0.846 * fs
            ty = "0%"
        else:
            top = y
            ty = "-50%"
        content = it["raw"] if it["raw"] is not None else html.escape(it["s"])
        spans.append(
            f'<span style="position:absolute;left:{x:.1f}px;top:{top:.1f}px;'
            f'transform:translate({tx},{ty});white-space:nowrap;line-height:1;'
            f"font-family:'DejaVu Sans';font-size:{fs}px;color:{it['color']};"
            f'font-weight:{"bold" if it["bold"] else "normal"}">{content}</span>')
    inner = (f'<div style="position:relative;width:{w}px;height:{h}px;overflow:hidden;'
             f'background:white;margin:0;padding:0">' + "".join(spans) + "</div>")
    return Div(text=inner, width=w, height=h, margin=0)


# ---------------- left column ----------------
L1 = Panel((0, 0, 300, 195), (13, 5, 293, 191), (2012.91, 2025.05), (-5, 4))
build(L1, list(range(-5, 5)), [], show_x=False)
bands(L1, L1_REZ, -0.07)
zero(L1, 1.5)
series(L1, L1_KAPITAL, YEL, 2)
series(L1, L1_PROFIT, RED, 2)
trio(L1, 93, (43, 52, 60), PROFIT_T, RED)
trio(L1, 118, (145, 154, 162), KAPITAL_T, YEL)
txt(L1, 15, 183, "* Gesamtwirtschaft", "5.5px", align="left")
txt(L1, 290, 183, STAND, "5.6px", align="right")

ES_top = textdiv((0, 195, 300, 224), [T(12, 208, "ES: Konjunkturimpulse*", 11.3, bold=True),
                                      T(12, 219, SUB, 5.7)])
ES = Panel((0, 224, 300, 426), (15, 229, 293, 414), (2010.93, 2024.9), (-6, 6))
build(ES, [-6, -4, -2, 0, 2, 4, 6], YEARS_11)
bands(ES, ES_REZ, -0.07)
zero(ES, 1.5)
series(ES, ES_KAPITAL, YEL, 2)
series(ES, ES_PROFIT, RED, 2)
series(ES, ES_KREDIT, BLU, 2)
trio(ES, 80, (238, 247, 254), KREDIT_T, BLU)
trio(ES, 200, (237, 247, 254), PROFIT_T, RED)
trio(ES, 118, (361, 369, 378), KAPITAL_T, YEL)
txt(ES, 129, 408, NOTE, "5.5px")
txt(ES, 292, 408, STAND, "5.6px", align="right")
ES_bot = textdiv((0, 426, 300, 450), [T(12, 434, GRAU_F, 5.6),
                                      quelle(12, 443, "Quelle: Eurostat |")])

DE_top = textdiv((0, 450, 300, 477), [T(12, 464, "DE: Kapitalimpuls (Nettoinvestitionen)*", 11.3, bold=True),
                                      T(12, 474, SUB, 5.7)])
DE = Panel((0, 477, 300, 674), (13, 480.7, 293, 662), (2000.5, 2024.25), (-6, 4))
build(DE, list(range(-6, 5)), YEARS_DE, xstand=3)
bands(DE, DE_REZ, -0.07)
zero(DE, 1.5)
series(DE, DE_QUARTAL, YEL, 1.5)
series(DE, DE_JAHR, RED, 2.6)
txt(DE, 202, 507, "Laufende Jahressummen", "7.6px", RED, True)
txt(DE, 204, 603, "Quartalswerte", "7.6px", YEL, True)
txt(DE, 225, 656, NOTE, "5.5px")
DE_bot = textdiv((0, 674, 300, 700), [
    T(12, 686, 'Grau = Rezession nach SVR und Faustregel "2 Quartale im Minus" | Stand: 08.10.2024', 5.6),
    quelle(12, 695.5, "Quelle: Eurostat |")])

L4 = Panel((0, 700, 300, 900), (15, 708, 293, 890), (2010.87, 2024.9), (-4, 6))
build(L4, list(range(-4, 7)), YEARS_11, xstand=1)
bands(L4, L4_REZ, -0.07)
zero(L4, 1.5)
series(L4, L4_KAPITAL, YEL, 2)
series(L4, L4_PROFIT, RED, 2)
series(L4, L4_KREDIT, BLU, 2)
trio(L4, 251, (722, 730, 738), PROFIT_T, RED)
trio(L4, 126, (738, 748, 756), KREDIT_T, BLU)
trio(L4, 126, (849, 858, 865), KAPITAL_T, YEL)
txt(L4, 17, 883, NOTE, "5.5px", align="left")
txt(L4, 293, 883, STAND, "5.6px", align="right")

# ---------------- center column ----------------
IT_top = textdiv((300, 0, 900, 30), [T(326, 6, "IT: Konjunkturimpulse*", 22, bold=True, base="alphabetic"),
                                     T(327, 18, SUB, 11.4)])
IT = Panel((300, 30, 900, 427), (335, 38, 885, 403), (2010.957, 2024.93), (-4, 6))
build(IT, list(range(-4, 7)), YEARS_11, tick_fs="11.5px", ystand=9, xstand=7, center=True)
bands(IT, IT_REZ, -0.125, beige="#FAF3EE", gray="#CFCFCF")
zero(IT, 3)
series(IT, IT_KAPITAL, C_YEL, 4)
series(IT, IT_KREDIT, C_BLU, 4)
series(IT, IT_PROFIT, C_RED, 4)
trio(IT, 552, (102, 120, 136), KREDIT_T, C_BLU, "14.6px", "11.3px")
trio(IT, 803, (67, 85, 100), PROFIT_T, C_RED, "14.6px", "11.3px")
trio(IT, 551, (320, 338, 354), KAPITAL_T, C_YEL, "14.6px", "11.3px")
txt(IT, 452, 390, NOTE, "11.3px", align="left")
txt(IT, 885, 390, STAND, "11.3px", align="right")
IT_bot = textdiv((300, 427, 900, 449), [T(328, 442, GRAU_F, 11.3)])

US_top = textdiv((300, 449, 900, 479), [T(328, 458, "US: Konjunkturimpulse*", 22, bold=True, base="alphabetic"),
                                        T(330, 472, SUB, 11.4)])
US = Panel((300, 479, 900, 884), (326, 487, 885, 860), (2010.94, 2024.97), (-5, 5))
build(US, list(range(-5, 6)), YEARS_11, tick_fs="11.5px", ystand=7, xstand=7, center=True)
bands(US, US_REZ, -0.03, beige="#FAF3EE", gray="#CFCFCF")
zero(US, 3)
series(US, US_KAPITAL, C_YEL, 4)
series(US, US_PROFIT, C_RED, 4)
series(US, US_KREDIT, C_BLU, 4)
trio(US, 596, (515, 533, 548), KAPITAL_T, C_YEL, "14.6px", "11.3px")
trio(US, 577, (589, 607, 622), PROFIT_T, C_RED, "14.6px", "11.3px")
trio(US, 515, (757, 775, 791), KREDIT_T, C_BLU, "14.6px", "11.3px")
txt(US, 335, 847, NOTE, "11.3px", align="left")
txt(US, 882, 847, STAND, "11.3px", align="right")
US_bot = textdiv((300, 884, 900, 900), [T(328, 893.5, "Grau = Rezession NBER", 11.3)])

# ---------------- right column ----------------
R1_top = textdiv((900, 0, 1200, 9), [T(912, 3.5, "in % der Nettowertschöpfung der Unternehmen, Prozentpunkte zum Vorjahresquartal", 5.7)])
R1 = Panel((900, 9, 1200, 195), (913, 13, 1192, 184), (2010.95, 2024.9), (-8, 6))
build(R1, [-8, -6, -4, -2, 0, 2, 4, 6], YEARS_11, xstand=2)
bands(R1, R1_REZ, -0.07)
zero(R1, 1.5)
series(R1, R1_KAPITAL, YEL, 2)
series(R1, R1_PROFIT, RED, 2)
series(R1, R1_KREDIT, BLU, 2)
trio(R1, 1000, (33, 43, 51), KAPITAL_T, YEL)
trio(R1, 1148, (18, 27, 34), PROFIT_T, RED)
trio(R1, 1027, (140, 150, 158), KREDIT_T, BLU)
txt(R1, 1026, 178, NOTE, "5.5px")
txt(R1, 1191, 178, STAND, "5.6px", align="right")

AT_top = textdiv((900, 195, 1200, 224), [T(912, 208, "AT: Konjunkturimpulse*", 11.3, bold=True),
                                         T(912, 219, SUB, 5.7)])
AT = Panel((900, 224, 1200, 426), (915, 229, 1193, 414), (2010.93, 2024.9), (-6, 6))
build(AT, [-6, -4, -2, 0, 2, 4, 6], YEARS_11)
bands(AT, AT_REZ, -0.07)
zero(AT, 1.5)
series(AT, AT_KAPITAL, YEL, 2)
series(AT, AT_KREDIT, BLU, 2)
series(AT, AT_PROFIT, RED, 2)
trio(AT, 1019, (237, 246, 253), KREDIT_T, BLU)
trio(AT, 1051, (266, 276, 283), PROFIT_T, RED)
trio(AT, 1013, (361, 369, 378), KAPITAL_T, YEL)
txt(AT, 1021, 407, NOTE, "5.5px")
txt(AT, 1173, 407, STAND, "5.6px", align="right")
AT_bot = textdiv((900, 426, 1200, 450), [T(912, 434, GRAU_F, 5.6),
                                         quelle(912, 443, "Quelle: Eurostat |")])

R3_top = textdiv((900, 450, 1200, 477), [T(917, 463, "US: Kapitalimpuls*", 11.3, bold=True),
                                         T(917, 474, SUB, 5.7)])
R3 = Panel((900, 477, 1200, 675), (918, 481.7, 1197, 663.3), (2012.99, 2024.94), (-2.5, 1.5))
build(R3, [-2.5, -2.0, -1.5, -1.0, -0.5, 0.0, 0.5, 1.0, 1.5], YEARS_US, tick_fs="5.8px",
      ystand=2, yfmt="0.0")
bands(R3, R3_REZ, -0.07)
zero(R3, 1.5)
series(R3, US_KAP_NEU, GRN, 2)
series(R3, US_KAP_ALT, PUR, 2, dash="4 2")
txt(R3, 1042, 489, "Kapitalimpuls neu", "7.4px", GRN, True)
txt(R3, 1034, 498, "nachlaufende Jahressummen", "5.6px", GRN, True)
txt(R3, 1030, 604, "Kapitalimpuls alt", "7.4px", PUR, True)
txt(R3, 1034, 612, "nachlaufende Jahressummen", "5.6px", PUR, True)
txt(R3, 918, 655, NOTE, "5.5px", align="left")
txt(R3, 1193, 655, STAND, "5.6px", align="right")
R3_bot = textdiv((900, 675, 1200, 700), [T(913, 682, "Grau = Rezession NBER", 5.6),
                                         quelle(913, 695.5, "Quelle: BEA |")])

R4 = Panel((900, 700, 1200, 900), (915, 706.7, 1193, 890), (2010.91, 2024.9), (-4, 6))
build(R4, list(range(-4, 7)), YEARS_11, xstand=1)
bands(R4, R4_REZ, -0.07)
zero(R4, 1.5)
series(R4, R4_KAPITAL, YEL, 2)
series(R4, R4_KREDIT, BLU, 2)
series(R4, R4_PROFIT, RED, 2)
trio(R4, 1147, (720, 729, 737), PROFIT_T, RED)
trio(R4, 1027, (738, 748, 756), KREDIT_T, BLU)
trio(R4, 1026, (849, 858, 865), KAPITAL_T, YEL)
txt(R4, 1027, 884, NOTE, "5.5px")
txt(R4, 1187, 884, STAND, "5.6px", align="right")

layout = row(column(L1.fig, ES_top, ES.fig, ES_bot, DE_top, DE.fig, DE_bot, L4.fig),
             column(IT_top, IT.fig, IT_bot, US_top, US.fig, US_bot),
             column(R1_top, R1.fig, AT_top, AT.fig, AT_bot, R3_top, R3.fig, R3_bot, R4.fig))

open("out.html", "w").write(file_html(layout, INLINE))
